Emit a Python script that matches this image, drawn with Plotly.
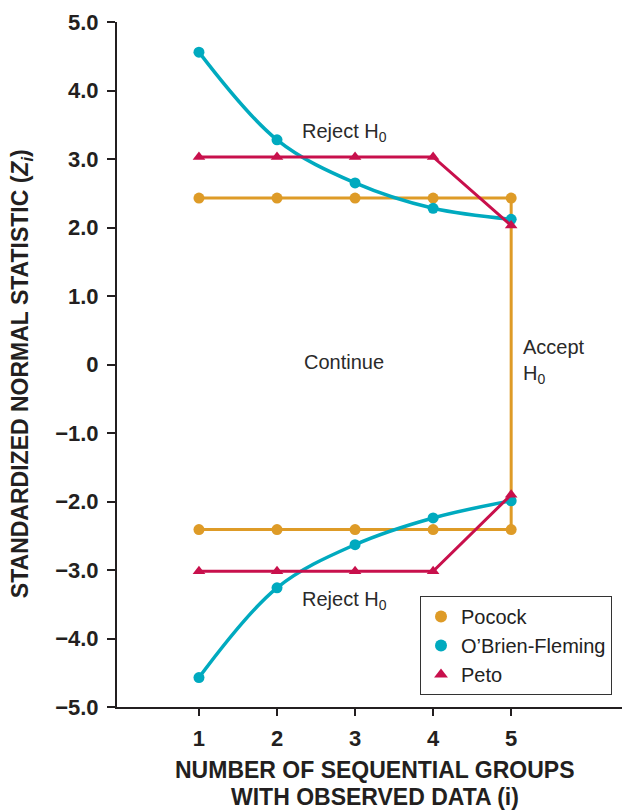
import plotly.graph_objects as go

groups = [1, 2, 3, 4, 5]
pocock_upper = [2.43, 2.43, 2.43, 2.43, 2.43]
pocock_lower = [-2.41, -2.41, -2.41, -2.41, -2.41]
obf_upper = [4.56, 3.28, 2.65, 2.28, 2.12]
obf_lower = [-4.57, -3.26, -2.63, -2.24, -1.99]
peto_upper = [3.03, 3.03, 3.03, 3.03, 2.03]
peto_lower = [-3.02, -3.02, -3.02, -3.02, -1.90]
y_ticks = [5, 4, 3, 2, 1, 0, -1, -2, -3, -4, -5]
y_labels = ["5.0", "4.0", "3.0", "2.0", "1.0", "0", "\u22121.0", "\u22122.0", "\u22123.0", "\u22124.0", "\u22125.0"]

ORANGE = "#DE9B27"
CYAN = "#00AABF"
RED = "#C8104C"
INK = "#231F20"
FONT = "Liberation Sans, Arial, sans-serif"

fig = go.Figure()

# Pocock: upper, vertical connector at 5, lower
fig.add_trace(go.Scatter(
    x=groups + groups[::-1], y=pocock_upper + pocock_lower[::-1],
    mode="lines+markers", line=dict(color=ORANGE, width=3),
    marker=dict(color=ORANGE, size=11, symbol="circle"), showlegend=False))

for ys in (obf_upper, obf_lower):
    fig.add_trace(go.Scatter(
        x=groups, y=ys, mode="lines+markers",
        line=dict(color=CYAN, width=3.5, shape="spline"),
        marker=dict(color=CYAN, size=11, symbol="circle"), showlegend=False))

for ys in (peto_upper, peto_lower):
    fig.add_trace(go.Scatter(
        x=groups, y=ys, mode="lines+markers",
        line=dict(color=RED, width=3),
        marker=dict(color=RED, size=11, symbol="triangle-up"), showlegend=False))

# legend-only entries
for name, col, sym in (("Pocock", ORANGE, "circle"), ("O\u2019Brien-Fleming", CYAN, "circle"), ("Peto", RED, "triangle-up")):
    fig.add_trace(go.Scatter(x=[None], y=[None], mode="markers", name=name,
                             marker=dict(color=col, size=10, symbol=sym)))

annots = [
    dict(x=2.86, y=3.38, text="Reject H<sub>0</sub>", xanchor="center", yanchor="middle"),
    dict(x=2.86, y=-3.44, text="Reject H<sub>0</sub>", xanchor="center", yanchor="middle"),
    dict(x=2.86, y=0.04, text="Continue", xanchor="center", yanchor="middle"),
    dict(x=5.13, y=0.04, text="Accept<br>H<sub>0</sub>", xanchor="left", yanchor="middle", align="left"),
]
for a in annots:
    fig.add_annotation(**a, showarrow=False, xref="x", yref="y",
                       font=dict(family=FONT, size=20, color="#2a2a2a"))

fig.add_annotation(text="STANDARDIZED NORMAL STATISTIC (<i>Z</i><sub><i>i</i></sub>)",
                   xref="paper", yref="paper", x=-0.19, y=0.486, textangle=-90,
                   showarrow=False, xanchor="center", yanchor="middle",
                   font=dict(family=FONT, size=23, color=INK, weight="bold"))
for txt, yy in (("NUMBER OF SEQUENTIAL GROUPS", -0.092), ("WITH OBSERVED DATA (i)", -0.131)):
    fig.add_annotation(text=txt, xref="paper", yref="paper", x=0.51, y=yy,
                       showarrow=False, xanchor="center", yanchor="middle",
                       font=dict(family=FONT, size=23, color=INK, weight="bold"))

fig.update_layout(
    width=632, height=811,
    margin=dict(l=117, r=10, t=20, b=104),
    plot_bgcolor="white", paper_bgcolor="white",
    legend=dict(x=0.6, y=0.162, xanchor="left", yanchor="top",
                bordercolor="#333333", borderwidth=1, bgcolor="white",
                font=dict(family=FONT, size=20, color="#222222"),
                itemsizing="constant", tracegroupgap=0),
)
fig.update_xaxes(range=[-0.05, 6.42], tickvals=groups, ticktext=[str(g) for g in groups],
                 showgrid=False, zeroline=False, showline=True, linecolor=INK, linewidth=2,
                 ticks="outside", ticklen=7, tickwidth=1.5, tickcolor=INK, ticklabelstandoff=4,
                 tickfont=dict(family=FONT, size=22, color=INK, weight="bold"))
fig.update_yaxes(range=[-5, 5], tickvals=y_ticks, ticktext=y_labels,
                 showgrid=False, zeroline=False, showline=True, linecolor=INK, linewidth=2,
                 ticks="outside", ticklen=8, tickwidth=1.5, tickcolor=INK, ticklabelstandoff=4,
                 tickfont=dict(family=FONT, size=22, color=INK, weight="bold"))

fig.write_html("out.html")
